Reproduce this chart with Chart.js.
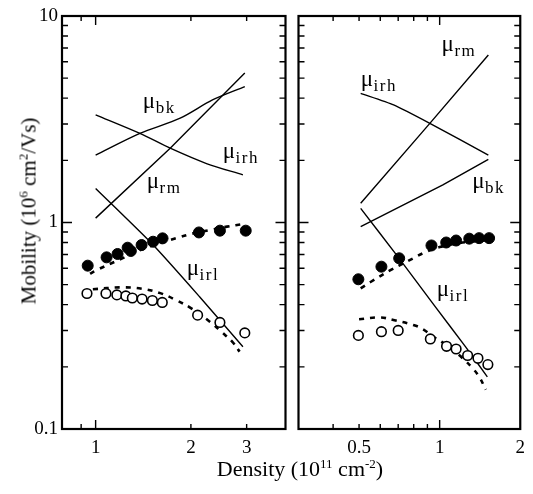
<!DOCTYPE html>
<html><head><meta charset="utf-8">
<script src="https://cdn.jsdelivr.net/npm/chart.js@4.4.0/dist/chart.umd.min.js"></script>
<style>
html,body{margin:0;padding:0;background:#fff;}
#wrap{position:relative;width:533px;height:494px;overflow:hidden;background:#fff;}
canvas{position:absolute;top:0;}
#c1{left:0;width:292px;height:494px;}
#c2{left:292px;width:241px;height:494px;}
.title{position:absolute;font-family:"Liberation Serif",serif;color:#000;white-space:nowrap;line-height:1;}
.title sup{font-size:13px;vertical-align:0;position:relative;top:-8px;}
#ytitle{font-size:21px;left:29px;top:211px;transform:translate(-50%,-50%) rotate(-90deg);}
#xtitle{font-size:22px;left:300px;top:469px;transform:translate(-50%,-50%);}
</style></head>
<body><div id="wrap">
<canvas id="c1" width="292" height="494"></canvas>
<canvas id="c2" width="241" height="494"></canvas>
<div class="title" id="ytitle">Mobility (10<sup>6</sup> cm<sup>2</sup>/Vs)</div>
<div class="title" id="xtitle">Density (10<sup>11</sup> cm<sup>-2</sup>)</div>
</div>
<script>
// ---------- data: left panel ----------
const leftDensBk  = [1.0, 1.38, 1.85, 2.34, 2.96];
const leftMuBk    = [2.12, 2.70, 3.20, 3.92, 4.55];
const leftDensIrh = [1.0, 1.38, 1.72, 2.24, 2.92];
const leftMuIrh   = [3.32, 2.70, 2.29, 1.93, 1.70];
const leftDensRm  = [1.0, 1.72, 2.96];
const leftMuRm    = [1.05, 2.29, 5.3];
const leftDensIrl = [1.0, 1.52, 2.13, 2.92];
const leftMuIrl   = [1.46, 0.778, 0.437, 0.25];
const leftDensFilled = [0.944, 1.083, 1.173, 1.262, 1.292, 1.397, 1.519, 1.627, 2.12, 2.47, 2.98];
const leftMuFilled   = [0.618, 0.678, 0.704, 0.755, 0.728, 0.778, 0.807, 0.838, 0.895, 0.913, 0.913];
const leftDensOpen = [0.939, 1.078, 1.167, 1.246, 1.306, 1.402, 1.511, 1.624, 2.10, 2.47, 2.96];
const leftMuOpen   = [0.453, 0.453, 0.446, 0.441, 0.431, 0.426, 0.419, 0.410, 0.356, 0.328, 0.292];
const leftDensDashHi = [0.96, 1.0, 1.2, 1.4, 1.6, 1.8, 2.0, 2.3, 2.6, 2.95];
const leftMuDashHi   = [0.565, 0.585, 0.665, 0.74, 0.795, 0.84, 0.88, 0.92, 0.955, 0.985];
const leftDensDashLo = [0.98, 1.2, 1.4, 1.6, 1.8, 2.0, 2.3, 2.5, 2.7, 2.85];
const leftMuDashLo   = [0.475, 0.485, 0.478, 0.455, 0.42, 0.385, 0.33, 0.295, 0.265, 0.237];
const leftLabelText = ['bk', 'irh', 'rm', 'irl'];
const leftLabelX    = [1.41, 2.52, 1.45, 1.94];
const leftLabelY    = [3.58, 2.05, 1.47, 0.557];

// ---------- data: right panel ----------
const rightDensIrh = [0.507, 0.673, 0.919, 1.52];
const rightMuIrh   = [4.22, 3.71, 3.02, 2.12];
const rightDensRm  = [0.507, 0.919, 1.52];
const rightMuRm    = [1.24, 3.02, 6.47];
const rightDensBk  = [0.507, 1.028, 1.52];
const rightMuBk    = [0.954, 1.52, 2.02];
const rightDensIrl = [0.507, 0.70, 0.95, 1.25, 1.507];
const rightMuIrl   = [1.17, 0.68, 0.40, 0.25, 0.179];
const rightDensFilled = [0.497, 0.606, 0.706, 0.932, 1.058, 1.152, 1.29, 1.404, 1.53];
const rightMuFilled   = [0.531, 0.611, 0.671, 0.774, 0.80, 0.818, 0.835, 0.84, 0.84];
const rightDensOpen = [0.497, 0.606, 0.70, 0.923, 1.061, 1.152, 1.272, 1.39, 1.514];
const rightMuOpen   = [0.284, 0.296, 0.300, 0.273, 0.2515, 0.244, 0.227, 0.22, 0.205];
const rightDensDashHi = [0.507, 0.552, 0.663, 0.797, 0.868, 1.0, 1.185, 1.53];
const rightMuDashHi   = [0.48, 0.515, 0.593, 0.671, 0.71, 0.76, 0.795, 0.823];
const rightDensDashLo = [0.50, 0.60, 0.672, 0.797, 0.868, 0.945, 1.014, 1.12, 1.219, 1.327, 1.405, 1.487];
const rightMuDashLo   = [0.34, 0.347, 0.337, 0.319, 0.304, 0.28, 0.265, 0.241, 0.22, 0.197, 0.179, 0.155];
const rightLabelText = ['irh', 'rm', 'bk', 'irl'];
const rightLabelX    = [0.507, 1.017, 1.324, 0.975];
const rightLabelY    = [4.58, 6.77, 1.47, 0.441];

// ---------- axes ----------
const yRange = [0.1, 10];
const yTickLabels = [0.1, 1, 10];
const yMajorTicks = [1];
const yMinorTicks = [0.2,0.3,0.4,0.5,0.6,0.7,0.8,0.9,2,3,4,5,6,7,8,9];
const leftXRange = [0.783, 3.98];
const leftXTickLabels = [1, 2, 3];
const leftXMajorTicks = [1];
const leftXMinorTicks = [0.9, 2, 3];
const rightXRange = [0.297, 2.0];
const rightXTickLabels = [0.5, 1, 2];
const rightXMajorTicks = [1];
const rightXMinorTicks = [0.4, 0.5, 0.6, 0.7, 0.8, 0.9];

const FONT = '"Liberation Serif", "Times New Roman", serif';
const pts = (xs, ys) => xs.map((x, i) => ({x, y: ys[i]}));

function solid(xs, ys, tension) {
  return {type:'line', data: pts(xs, ys), borderColor:'#000', borderWidth:1.4,
    pointRadius:0, tension: tension || 0, fill:false, order:2};
}
function dashed(xs, ys) {
  return {type:'line', data: pts(xs, ys), borderColor:'#000', borderWidth:2.6,
    borderDash:[5,6], pointRadius:0, tension:0.4, fill:false, order:3};
}
function filled(xs, ys) {
  return {type:'line', data: pts(xs, ys), showLine:false, pointRadius:5.5,
    pointBackgroundColor:'#000', pointBorderColor:'#000', pointBorderWidth:1, order:0};
}
function open(xs, ys) {
  return {type:'line', data: pts(xs, ys), showLine:false, pointRadius:4.8,
    pointBackgroundColor:'#fff', pointBorderColor:'#000', pointBorderWidth:1.6, order:1};
}

const framePlugin = {
  id: 'frame',
  afterDatasetsDraw(chart, args, o) {
    const {ctx, chartArea: a} = chart;
    const x = chart.scales.x, y = chart.scales.y;
    ctx.save();
    ctx.strokeStyle = '#000';
    ctx.lineWidth = 1.4;
    ctx.beginPath();
    const vt = (vals, len) => vals.forEach(v => {
      const px = x.getPixelForValue(v);
      ctx.moveTo(px, a.bottom); ctx.lineTo(px, a.bottom - len);
      ctx.moveTo(px, a.top); ctx.lineTo(px, a.top + len);
    });
    const ht = (vals, len) => vals.forEach(v => {
      const py = y.getPixelForValue(v);
      ctx.moveTo(a.left, py); ctx.lineTo(a.left + len, py);
      ctx.moveTo(a.right, py); ctx.lineTo(a.right - len, py);
    });
    vt(o.xMajor, 9); vt(o.xMinor, 5);
    ht(o.yMajor, 10); ht(o.yMinor, 6);
    ctx.stroke();
    ctx.lineWidth = 2.2;
    ctx.strokeRect(a.left, a.top, a.right - a.left, a.bottom - a.top);
    // curve labels
    ctx.fillStyle = '#000';
    ctx.textBaseline = 'alphabetic';
    o.labelText.forEach((t, i) => {
      const px = x.getPixelForValue(o.labelX[i]);
      const py = y.getPixelForValue(o.labelY[i]);
      ctx.font = '23px ' + FONT;
      ctx.letterSpacing = '0px';
      ctx.fillText('\u03bc', px, py);
      const w = ctx.measureText('\u03bc').width;
      ctx.font = '17px ' + FONT;
      ctx.letterSpacing = '1.5px';
      ctx.fillText(t, px + w + 0.5, py + 5);
    });
    ctx.restore();
  }
};

function makeConfig(datasets, xRange, xTickLabels, xMajor, xMinor, labelText, labelX, labelY, showY, padLeft, padRight, yWidth) {
  return {
    type: 'line',
    data: {datasets},
    plugins: [framePlugin],
    options: {
      responsive: false, animation: false, devicePixelRatio: 1,
      layout: {padding: {left: padLeft, right: padRight, top: 16, bottom: 0}},
      plugins: {legend: {display: false}, tooltip: {enabled: false},
        frame: {xMajor, xMinor, yMajor: yMajorTicks, yMinor: yMinorTicks, labelText, labelX, labelY}},
      scales: {
        x: {type: 'logarithmic', min: xRange[0], max: xRange[1],
          grid: {display: false, drawTicks: false}, border: {display: false},
          afterBuildTicks: s => { s.ticks = xTickLabels.map(v => ({value: v})); },
          afterFit: s => { s.height = 65; },
          ticks: {autoSkip: false, maxRotation: 0, padding: 8, color: '#000',
            font: {family: FONT, size: 19}, callback: v => String(v)}},
        y: {type: 'logarithmic', min: yRange[0], max: yRange[1],
          grid: {display: false, drawTicks: false}, border: {display: false},
          afterBuildTicks: s => { s.ticks = yTickLabels.map(v => ({value: v})); },
          afterFit: s => { s.width = yWidth; },
          ticks: {display: showY, autoSkip: false, padding: 4, color: '#000',
            font: {family: FONT, size: 19}, callback: v => String(v)}}
      }
    }
  };
}

new Chart(document.getElementById('c1'), makeConfig([
  filled(leftDensFilled, leftMuFilled),
  open(leftDensOpen, leftMuOpen),
  solid(leftDensBk, leftMuBk, 0.3),
  solid(leftDensIrh, leftMuIrh, 0.3),
  solid(leftDensRm, leftMuRm, 0),
  solid(leftDensIrl, leftMuIrl, 0.2),
  dashed(leftDensDashHi, leftMuDashHi),
  dashed(leftDensDashLo, leftMuDashLo)
], leftXRange, leftXTickLabels, leftXMajorTicks, leftXMinorTicks,
   leftLabelText, leftLabelX, leftLabelY, true, 0, 6, 62));

new Chart(document.getElementById('c2'), makeConfig([
  filled(rightDensFilled, rightMuFilled),
  open(rightDensOpen, rightMuOpen),
  solid(rightDensIrh, rightMuIrh, 0.2),
  solid(rightDensRm, rightMuRm, 0),
  solid(rightDensBk, rightMuBk, 0),
  solid(rightDensIrl, rightMuIrl, 0.2),
  dashed(rightDensDashHi, rightMuDashHi),
  dashed(rightDensDashLo, rightMuDashLo)
], rightXRange, rightXTickLabels, rightXMajorTicks, rightXMinorTicks,
   rightLabelText, rightLabelX, rightLabelY, false, 5, 11, 0));
</script>
</body></html>
